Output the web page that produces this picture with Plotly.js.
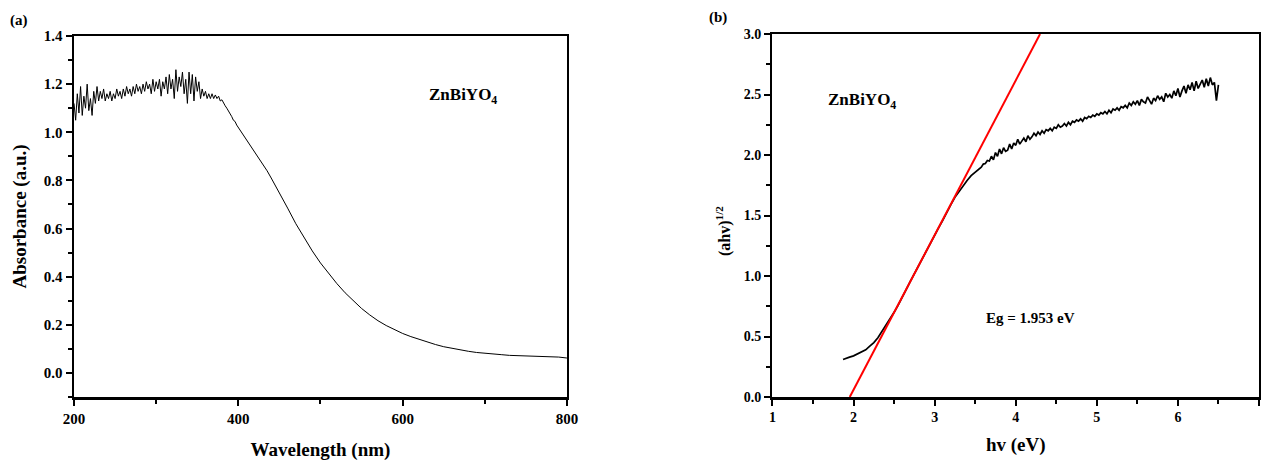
<!DOCTYPE html>
<html>
<head>
<meta charset="utf-8">
<script src="https://cdn.plot.ly/plotly-3.0.1.min.js"></script>
<style>html,body{margin:0;padding:0;background:#fff;}#chart{width:1261px;height:461px;}</style>
</head>
<body>
<div id="chart"></div>
<script>
// Panel (a): absorbance spectrum
const wavelength = [200,202,204,206,208,210,212,214,216,218,220,222,224,226,228,230,232,234,236,238,240,242,244,246,248,250,252,254,256,258,260,262,264,266,268,270,272,274,276,278,280,282,284,286,288,290,292,294,296,298,300,302,304,306,308,310,312,314,316,318,320,322,324,326,328,330,332,334,336,338,340,342,344,346,348,350,352,354,356,358,360,362,364,366,368,370,372,374,376,378,380,382,384,386,388,390,392,394,396,398,
400,405,410,415,420,425,430,435,440,450,460,470,480,490,500,510,520,530,540,550,560,570,580,590,600,610,620,630,640,650,660,670,680,690,700,710,720,730,740,750,760,770,780,790,800];
const absorbance = [1.12,1.05,1.16,1.08,1.19,1.07,1.15,1.10,1.20,1.09,1.14,1.07,1.17,1.12,1.19,1.13,1.17,1.14,1.18,1.13,1.16,1.14,1.17,1.13,1.16,1.14,1.18,1.15,1.17,1.14,1.18,1.15,1.19,1.16,1.18,1.15,1.19,1.16,1.20,1.17,1.19,1.16,1.20,1.17,1.21,1.18,1.20,1.16,1.22,1.17,1.21,1.18,1.22,1.15,1.21,1.18,1.23,1.16,1.24,1.18,1.22,1.14,1.26,1.17,1.23,1.19,1.25,1.16,1.22,1.12,1.25,1.16,1.24,1.13,1.23,1.17,1.21,1.14,1.18,1.15,1.17,1.14,1.16,1.14,1.16,1.14,1.155,1.14,1.15,1.13,1.135,1.12,1.11,1.10,1.09,1.075,1.065,1.05,1.045,1.03,
1.02,0.995,0.97,0.945,0.92,0.895,0.868,0.84,0.81,0.75,0.685,0.62,0.562,0.507,0.457,0.412,0.371,0.333,0.299,0.268,0.241,0.217,0.197,0.179,0.164,0.151,0.139,0.128,0.118,0.109,0.102,0.096,0.090,0.085,0.081,0.078,0.076,0.073,0.072,0.070,0.068,0.067,0.065,0.066,0.062];

// Panel (b): Tauc plot
const hv = [1.87,1.90,1.95,2.00,2.05,2.10,2.15,2.20,2.25,2.30,2.35,2.40,2.45,2.50,2.55,2.60,2.65,2.70,2.75,2.80,2.85,2.90,2.95,3.00,3.05,3.10,3.15,3.20,3.25,3.30,3.35,3.40,3.45,
3.500,3.525,3.550,3.575,3.600,3.625,3.650,3.675,3.700,3.725,3.750,3.775,3.800,3.825,3.850,3.875,3.900,3.925,3.950,3.975,
4.000,4.025,4.050,4.075,4.100,4.125,4.150,4.175,4.200,4.225,4.250,4.275,4.300,4.325,4.350,4.375,4.400,4.425,4.450,4.475,
4.500,4.525,4.550,4.575,4.600,4.625,4.650,4.675,4.700,4.725,4.750,4.775,4.800,4.825,4.850,4.875,4.900,4.925,4.950,4.975,
5.000,5.025,5.050,5.075,5.100,5.125,5.150,5.175,5.200,5.225,5.250,5.275,5.300,5.325,5.350,5.375,5.400,5.425,5.450,5.475,
5.500,5.525,5.550,5.575,5.600,5.625,5.650,5.675,5.700,5.725,5.750,5.775,5.800,5.825,5.850,5.875,5.900,5.925,5.950,5.975,
6.000,6.025,6.050,6.075,6.100,6.125,6.150,6.175,6.200,6.225,6.250,6.275,6.300,6.325,6.350,6.375,6.400,6.425,6.450,6.475,6.500];
const tauc = [0.31,0.32,0.33,0.34,0.355,0.37,0.39,0.42,0.45,0.49,0.54,0.59,0.64,0.70,0.76,0.83,0.89,0.955,1.02,1.08,1.14,1.21,1.27,1.34,1.40,1.46,1.53,1.59,1.65,1.70,1.75,1.79,1.83,
1.86,1.875,1.89,1.90,1.925,1.93,1.955,1.95,1.99,1.96,2.02,1.99,2.05,2.01,2.06,2.03,2.04,2.09,2.05,2.10,
2.08,2.13,2.09,2.12,2.14,2.11,2.16,2.13,2.15,2.18,2.16,2.19,2.17,2.20,2.18,2.21,2.20,2.22,2.20,2.23,
2.22,2.25,2.23,2.24,2.26,2.24,2.27,2.25,2.28,2.27,2.29,2.28,2.30,2.28,2.31,2.30,2.32,2.31,2.33,2.32,
2.34,2.33,2.35,2.34,2.36,2.34,2.37,2.35,2.38,2.37,2.39,2.37,2.40,2.39,2.41,2.39,2.43,2.41,2.44,2.42,
2.45,2.41,2.46,2.44,2.43,2.48,2.45,2.42,2.47,2.45,2.49,2.46,2.48,2.44,2.51,2.48,2.50,2.47,2.53,2.49,
2.55,2.48,2.53,2.57,2.51,2.58,2.54,2.60,2.53,2.61,2.55,2.59,2.62,2.56,2.63,2.57,2.64,2.58,2.60,2.45,2.58];
const fitX = [1.953, 4.30];
const fitY = [0, 3];

const FONT = 'Liberation Serif, DejaVu Serif, serif';
const tickFont = {family: FONT, size: 15, color: '#000', weight: 'bold'};
const titleFont = {family: FONT, size: 19, color: '#000', weight: 'bold'};

function axisBase(extra) {
  return Object.assign({
    showline: true, linecolor: '#000', linewidth: 2.5, mirror: true,
    ticks: 'outside', ticklen: 6, tickwidth: 2, tickcolor: '#000',
    showgrid: false, zeroline: false, tickfont: tickFont, automargin: false
  }, extra);
}

const traces = [
  {x: wavelength, y: absorbance, type: 'scatter', mode: 'lines', line: {color: '#000', width: 1}, xaxis: 'x', yaxis: 'y', hoverinfo: 'skip'},
  {x: hv, y: tauc, type: 'scatter', mode: 'lines', line: {color: '#000', width: 1.7}, xaxis: 'x2', yaxis: 'y2', hoverinfo: 'skip'},
  {x: fitX, y: fitY, type: 'scatter', mode: 'lines', line: {color: '#ff0000', width: 2}, xaxis: 'x2', yaxis: 'y2', hoverinfo: 'skip'}
];

const layout = {
  width: 1261, height: 461,
  margin: {l: 0, r: 0, t: 0, b: 0},
  paper_bgcolor: '#fff', plot_bgcolor: '#fff',
  showlegend: false,
  xaxis: axisBase({domain: [0.0587, 0.4496], anchor: 'y', range: [200, 800], dtick: 200, tick0: 200,
    minor: {dtick: 100, ticks: 'outside', ticklen: 4, tickwidth: 2, tickcolor: '#000'},
    title: {text: 'Wavelength (nm)', font: titleFont, standoff: 18}}),
  yaxis: axisBase({domain: [0.1388, 0.9219], anchor: 'x', range: [-0.1, 1.4], dtick: 0.2, tick0: 0, tickformat: '.1f',
    minor: {dtick: 0.1, ticks: 'outside', ticklen: 4, tickwidth: 2, tickcolor: '#000'},
    title: {text: 'Absorbance (a.u.)', font: titleFont, standoff: 12}}),
  xaxis2: axisBase({domain: [0.6126, 0.9984], anchor: 'y2', range: [1, 7], dtick: 1, tick0: 1,
    tickfont: Object.assign({}, tickFont, {size: 14}),
    minor: {dtick: 0.5, ticks: 'outside', ticklen: 4, tickwidth: 2, tickcolor: '#000'},
    title: {text: 'hv (eV)', font: titleFont, standoff: 14}}),
  yaxis2: axisBase({domain: [0.1388, 0.9262], anchor: 'x2', range: [0, 3], dtick: 0.5, tick0: 0, tickformat: '.1f',
    tickfont: Object.assign({}, tickFont, {size: 14}),
    minor: {dtick: 0.25, ticks: 'outside', ticklen: 4, tickwidth: 2, tickcolor: '#000'}}),
  annotations: [
    {text: '(ahv)<sup>1/2</sup>', xref: 'paper', yref: 'paper', x: 723/1261, y: 1 - 231/461, xanchor: 'center', yanchor: 'middle', textangle: -90, showarrow: false, font: {family: FONT, size: 16, color: '#000', weight: 'bold'}},
    {text: '(a)', xref: 'paper', yref: 'paper', x: 8/1261, y: 1 - 20/461, xanchor: 'left', yanchor: 'middle', showarrow: false, font: {family: FONT, size: 15, color: '#000', weight: 'bold'}},
    {text: '(b)', xref: 'paper', yref: 'paper', x: 707/1261, y: 1 - 18/461, xanchor: 'left', yanchor: 'middle', showarrow: false, font: {family: FONT, size: 15, color: '#000', weight: 'bold'}},
    {text: 'ZnBiYO<sub>4</sub>', xref: 'paper', yref: 'paper', x: 463/1261, y: 1 - 96/461, xanchor: 'center', yanchor: 'middle', showarrow: false, font: {family: FONT, size: 17, color: '#000', weight: 'bold'}},
    {text: 'ZnBiYO<sub>4</sub>', xref: 'paper', yref: 'paper', x: 862/1261, y: 1 - 101/461, xanchor: 'center', yanchor: 'middle', showarrow: false, font: {family: FONT, size: 17, color: '#000', weight: 'bold'}},
    {text: 'Eg = 1.953 eV', xref: 'paper', yref: 'paper', x: 1030/1261, y: 1 - 318/461, xanchor: 'center', yanchor: 'middle', showarrow: false, font: {family: FONT, size: 15, color: '#000', weight: 'bold'}}
  ]
};

Plotly.newPlot('chart', traces, layout, {staticPlot: true, displayModeBar: false});
</script>
</body>
</html>
